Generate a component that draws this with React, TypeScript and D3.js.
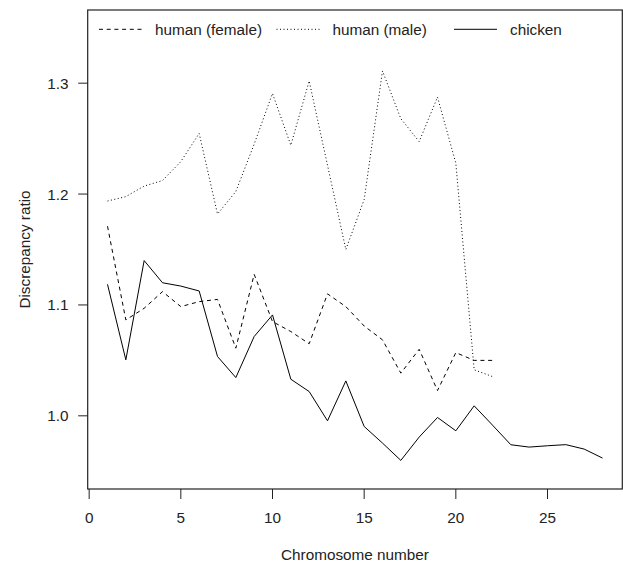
import React, { useEffect, useRef } from "react";
import * as d3 from "d3";

// discrepancy ratio per chromosome
const female = [1.171, 1.0865, 1.097, 1.112, 1.0985, 1.103, 1.105, 1.061, 1.1276, 1.085, 1.076, 1.065,
  1.11, 1.0985, 1.081, 1.0685, 1.0385, 1.06, 1.0228, 1.057, 1.05, 1.05];
const male = [1.1937, 1.1977, 1.2072, 1.2122, 1.2293, 1.2547, 1.182, 1.2023, 1.245, 1.2907, 1.244, 1.302,
  1.226, 1.15, 1.195, 1.311, 1.268, 1.2473, 1.2874, 1.2278, 1.0415, 1.0354];
const chicken = [1.1186, 1.0505, 1.14, 1.12, 1.117, 1.1126, 1.0535, 1.0345, 1.0715, 1.091, 1.033, 1.0219,
  0.9955, 1.0315, 0.9904, 0.9754, 0.9598, 0.9808, 0.9985, 0.9865, 1.009, 0.9916, 0.9739, 0.9718,
  0.973, 0.974, 0.97, 0.9619];

const xTicks = [0, 5, 10, 15, 20, 25];
const yTicks = [1.0, 1.1, 1.2, 1.3];
const seriesNames = ["human (female)", "human (male)", "chicken"];

const W = 623;
const H = 563;
const plot = { left: 87.7, right: 622.3, top: 10, bottom: 489 };
const font = "'Liberation Sans', Arial, sans-serif";
const fs = 15.3;

const App = () => {
  const ref = useRef<SVGSVGElement | null>(null);

  useEffect(() => {
    const svg = d3.select(ref.current);
    svg.selectAll("*").remove();

    const x = d3.scaleLinear().domain([-0.08, 29.08]).range([plot.left, plot.right]);
    const y = d3.scaleLinear().domain([0.934, 1.366]).range([plot.bottom, plot.top]);

    const line = d3.line<number>()
      .x((_, i) => x(i + 1))
      .y((d) => y(d));

    const styles = [
      { data: female, dash: "4,3.7" },
      { data: male, dash: "1,2.5" },
      { data: chicken, dash: null },
    ];

    styles.forEach((s) => {
      svg.append("path")
        .datum(s.data)
        .attr("d", line)
        .attr("fill", "none")
        .attr("stroke", "#000")
        .attr("stroke-width", 1)
        .attr("stroke-dasharray", s.dash);
    });

    // box
    svg.append("rect")
      .attr("x", plot.left)
      .attr("y", plot.top)
      .attr("width", plot.right - plot.left)
      .attr("height", plot.bottom - plot.top)
      .attr("fill", "none")
      .attr("stroke", "#222")
      .attr("stroke-width", 1.2);

    // x axis
    const gx = svg.append("g");
    gx.selectAll("line")
      .data(xTicks)
      .enter().append("line")
      .attr("x1", (d) => x(d)).attr("x2", (d) => x(d))
      .attr("y1", plot.bottom).attr("y2", plot.bottom + 10)
      .attr("stroke", "#222");
    gx.selectAll("text")
      .data(xTicks)
      .enter().append("text")
      .attr("x", (d) => x(d))
      .attr("y", 522.8)
      .attr("text-anchor", "middle")
      .text((d) => d);

    // y axis
    const gy = svg.append("g");
    gy.selectAll("line")
      .data(yTicks)
      .enter().append("line")
      .attr("x1", plot.left - 9.5).attr("x2", plot.left)
      .attr("y1", (d) => y(d)).attr("y2", (d) => y(d))
      .attr("stroke", "#222");
    gy.selectAll("text")
      .data(yTicks)
      .enter().append("text")
      .attr("x", 68.5)
      .attr("y", (d) => y(d) + 5.5)
      .attr("text-anchor", "end")
      .text((d) => d3.format(".1f")(d));

    svg.append("text")
      .attr("x", (plot.left + plot.right) / 2)
      .attr("y", 559.5)
      .attr("text-anchor", "middle")
      .text("Chromosome number");

    svg.append("text")
      .attr("transform", `translate(29.5, ${(plot.top + plot.bottom) / 2}) rotate(-90)`)
      .attr("text-anchor", "middle")
      .text("Discrepancy ratio");

    // legend
    const lg = svg.append("g");
    seriesNames.forEach((name, i) => {
      const x0 = 99 + i * 177.5;
      lg.append("line")
        .attr("x1", x0).attr("x2", x0 + 43)
        .attr("y1", 29.3).attr("y2", 29.3)
        .attr("stroke", "#000")
        .attr("stroke-dasharray", styles[i].dash);
      lg.append("text")
        .attr("x", x0 + 56)
        .attr("y", 34.5)
        .text(name);
    });

    svg.selectAll("text")
      .attr("font-family", font)
      .attr("font-size", fs)
      .attr("fill", "#222");
  }, []);

  return (
    <svg
      ref={ref}
      width={W}
      height={H}
      style={{ position: "absolute", left: 0, top: 0, background: "#fff" }}
    />
  );
};

export default App;
